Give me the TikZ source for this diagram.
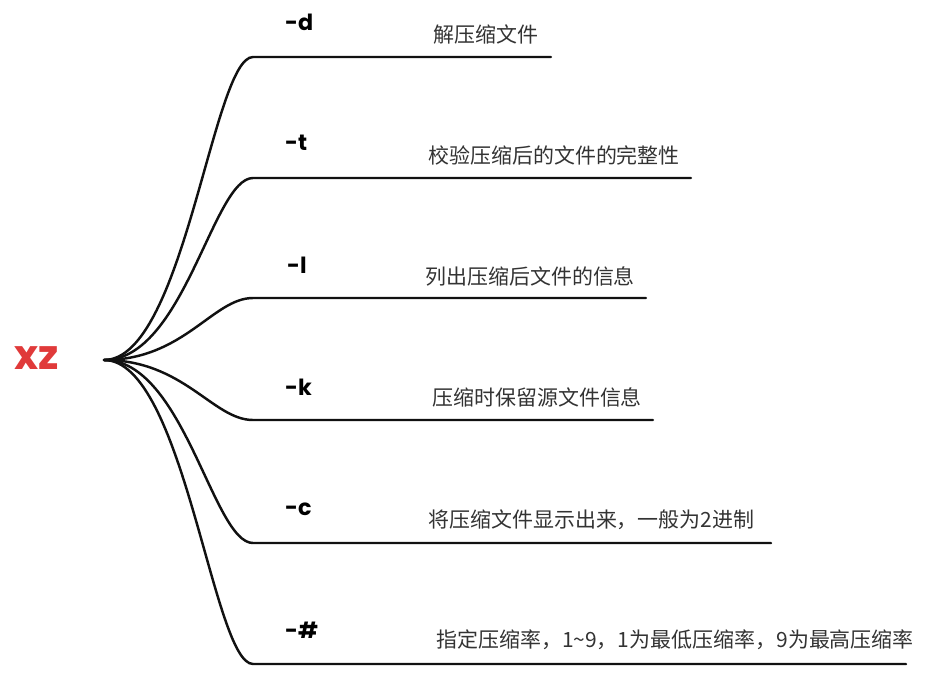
\documentclass[tikz,border=0pt]{standalone}
\usepackage{fontspec}
\usepackage{xcolor}
\usepackage{tikz}
\usetikzlibrary{positioning}
\newfontfamily\optfont{Poppins}
\newfontfamily\cjk{Noto Sans CJK SC}
\definecolor{RootRed}{HTML}{E03A3A}
\definecolor{TextDark}{HTML}{333333}
\definecolor{LineDark}{HTML}{111111}
\tikzset{
  branch/.style={draw=LineDark, line width=2.1pt, line cap=round},
  optlabel/.style={anchor=west, inner sep=0pt, font=\optfont\bfseries\fontsize{19}{23}\selectfont, text=black},
  desclabel/.style={anchor=west, inner sep=0pt, font=\cjk\fontsize{17.9}{21}\selectfont, text=TextDark}
}
\begin{document}
\begin{tikzpicture}[x=0.03cm, y=-0.03cm]
      \useasboundingbox (0,0) rectangle (936,674);
      \node[anchor=center, inner sep=0pt, text=RootRed, font=\optfont\bfseries\fontsize{35}{40}\selectfont] (xz) at (37,358) {xz};
      \coordinate (root) at (104,360);
      \coordinate (d-start) at (253,57);
      \coordinate (d-end) at (551,57);
      \coordinate (t-start) at (253,178);
      \coordinate (t-end) at (691,178);
      \coordinate (l-start) at (253,298);
      \coordinate (l-end) at (646,298);
      \coordinate (k-start) at (253,420);
      \coordinate (k-end) at (653,420);
      \coordinate (c-start) at (253,543);
      \coordinate (c-end) at (771,543);
      \coordinate (h-start) at (253,664);
      \coordinate (h-end) at (906,664);
      \draw[branch] (root) .. controls +(80,0) and +(-40,0) .. (d-start) -- (d-end);
      \draw[branch] (root) .. controls +(80,0) and +(-40,0) .. (t-start) -- (t-end);
      \draw[branch] (root) .. controls +(80,0) and +(-40,0) .. (l-start) -- (l-end);
      \draw[branch] (root) .. controls +(80,0) and +(-40,0) .. (k-start) -- (k-end);
      \draw[branch] (root) .. controls +(80,0) and +(-40,0) .. (c-start) -- (c-end);
      \draw[branch] (root) .. controls +(80,0) and +(-40,0) .. (h-start) -- (h-end);
      \node[optlabel] (opt-d) at (285,22) {-d};
      \node[optlabel] (opt-t) at (285,143) {-t};
      \node[optlabel] (opt-l) at (287,265) {-l};
      \node[optlabel] (opt-k) at (285,387) {-k};
      \node[optlabel] (opt-c) at (285,509) {-c};
      \node[optlabel] (opt-h) at (285,630) {-\#};
      \node[desclabel] (desc-d) at (433,34) {解压缩文件};
      \node[desclabel] (desc-t) at (428,155) {校验压缩后的文件的完整性};
      \node[desclabel] (desc-l) at (425,276) {列出压缩后文件的信息};
      \node[desclabel] (desc-k) at (432,397) {压缩时保留源文件信息};
      \node[desclabel] (desc-c) at (428,520) {将压缩文件显示出来，一般为2进制};
      \node[desclabel] (desc-h) at (436,640) {指定压缩率，1\textasciitilde9，1为最低压缩率，9为最高压缩率};
    \end{tikzpicture}
\end{document}
